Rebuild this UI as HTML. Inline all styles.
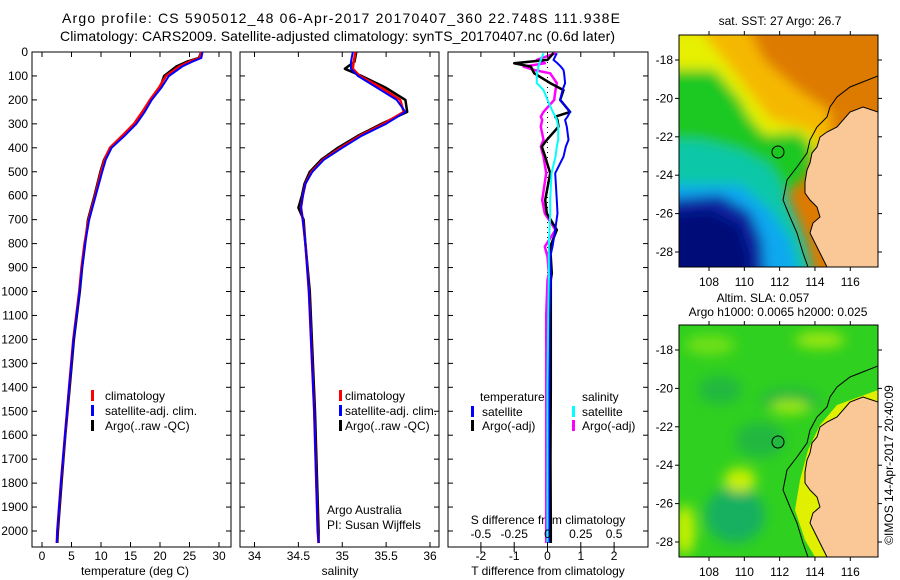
<!DOCTYPE html>
<html><head><meta charset="utf-8"><style>
html,body{margin:0;padding:0;background:#fff}
svg{display:block;font-family:"Liberation Sans",sans-serif}
text{font-size:12px;fill:#000}
</style></head><body>
<svg id="chart" width="900" height="580" viewBox="0 0 900 580" xmlns="http://www.w3.org/2000/svg">
<defs>
<clipPath id="c1"><rect x="679" y="35" width="199" height="232"/></clipPath>
<clipPath id="c2"><rect x="679" y="325" width="199" height="232"/></clipPath>
<filter id="bl"><feGaussianBlur stdDeviation="6"/></filter>
</defs>
<text x="62" y="23" textLength="558" style="font-size:14px">Argo profile: CS 5905012_48 06-Apr-2017 20170407_360 22.748S 111.938E</text>
<text x="60" y="41" textLength="555" style="font-size:14px">Climatology: CARS2009. Satellite-adjusted climatology: synTS_20170407.nc (0.6d later)</text>

<g>
<g clip-path="url(#c1)">
<rect x="679" y="35" width="199" height="232" fill="#dd7a00"/>
<g filter="url(#bl)">
<polygon points="660,20 745,20 765,60 800,90 830,110 835,150 810,165 660,165" fill="#f5b800"/>
<polygon points="660,30 700,30 720,55 740,80 770,120 810,130 820,150 800,170 660,170" fill="#e6f000"/>
<polygon points="660,70 715,70 740,100 750,118 765,135 800,132 815,150 808,175 790,190 760,205 660,205" fill="#1cc820"/>
<polygon points="660,140 700,140 740,150 770,165 785,190 795,215 805,240 815,280 660,280" fill="#10c8a8"/>
<polygon points="660,185 740,185 770,210 790,240 800,280 660,280" fill="#10a8f0"/>
<polygon points="660,200 720,195 750,212 762,240 765,280 660,280" fill="#0822a0"/>
<polygon points="660,215 710,210 740,225 750,255 750,280 660,280" fill="#000a78"/>
</g>
<polygon points="878,112 863,107 850,112 837,127 827,132 820,137 817,147 812,153 810,163 807,170 805,182 805,193 810,200 817,207 820,217 813,223 810,233 817,247 827,267 878,267" fill="#fac896"/>
<polyline points="878,112 863,107 850,112 837,127 827,132 820,137 817,147 812,153 810,163 807,170 805,182 805,193 810,200 817,207 820,217 813,223 810,233 817,247 827,267" fill="none" stroke="#000" stroke-width="1"/>
<polyline points="878,76 850,87 837,97 830,107 827,117 817,127 810,140 807,153 797,167 787,180 783,200 790,217 797,233 803,253 808,267" fill="none" stroke="#000" stroke-width="1"/>
<circle cx="778" cy="152" r="6" fill="#1cc820" stroke="#000" stroke-width="1"/>
</g>
<rect x="679" y="35" width="199" height="232" fill="none" stroke="#000"/>
</g>
<text x="780" y="25" text-anchor="middle">sat. SST: 27  Argo: 26.7</text>

<g>
<g clip-path="url(#c2)">
<rect x="679" y="325" width="199" height="232" fill="#30d020"/>
<g filter="url(#bl)">
<ellipse cx="720" cy="390" rx="22" ry="14" fill="#22b840"/>
<ellipse cx="790" cy="400" rx="30" ry="12" fill="#22b840"/>
<ellipse cx="760" cy="440" rx="25" ry="18" fill="#22b840"/>
<ellipse cx="735" cy="515" rx="30" ry="28" fill="#18b060"/>
<ellipse cx="740" cy="480" rx="16" ry="12" fill="#c8f000"/>
<ellipse cx="790" cy="407" rx="20" ry="7" fill="#9ee810"/>
<ellipse cx="820" cy="340" rx="25" ry="8" fill="#9ee810"/>
<ellipse cx="685" cy="530" rx="10" ry="25" fill="#c8f000"/>
<ellipse cx="710" cy="345" rx="25" ry="10" fill="#70e018"/>
</g>
<polygon points="878,390 837,405 820,425 808,450 800,480 795,510 805,540 815,557 878,557" fill="#e0f000"/>
<polygon points="878,402 863,397 850,402 837,417 827,422 820,427 817,437 812,443 810,453 807,460 805,472 805,483 810,490 817,497 820,507 813,513 810,523 817,537 827,557 878,557" fill="#fac896"/>
<polyline points="878,402 863,397 850,402 837,417 827,422 820,427 817,437 812,443 810,453 807,460 805,472 805,483 810,490 817,497 820,507 813,513 810,523 817,537 827,557" fill="none" stroke="#000"/>
<polyline points="878,366 850,377 837,387 830,397 827,407 817,417 810,430 807,443 797,457 787,470 783,490 790,507 797,523 803,543 808,557" fill="none" stroke="#000"/>
<circle cx="778" cy="442" r="6" fill="#22b840" stroke="#000"/>
</g>
<rect x="679" y="325" width="199" height="232" fill="none" stroke="#000"/>
</g>
<text x="763" y="302" text-anchor="middle">Altim. SLA: 0.057</text>
<text x="778" y="316" text-anchor="middle">Argo h1000: 0.0065 h2000: 0.025</text>
<text transform="translate(893,465) rotate(-90)" text-anchor="middle">©IMOS 14-Apr-2017 20:40:09</text>

<rect x="32" y="52" width="199" height="495" fill="none" stroke="#000"/>
<rect x="240" y="52" width="199" height="495" fill="none" stroke="#000"/>
<rect x="448" y="52" width="200" height="495" fill="none" stroke="#000"/>

<text x="135" y="575" text-anchor="middle">temperature (deg C)</text>
<text x="340" y="575" text-anchor="middle">salinity</text>
<text x="548" y="575" text-anchor="middle">T difference from climatology</text>
<text x="548" y="524" text-anchor="middle">S difference from climatology</text>
<text x="327" y="514">Argo Australia</text>
<text x="327" y="529">PI: Susan Wijffels</text>

<g>
<rect x="91" y="390" width="3" height="11" fill="#f00"/><text x="105" y="400">climatology</text>
<rect x="91" y="405" width="3" height="11" fill="#00f"/><text x="105" y="415">satellite-adj. clim.</text>
<rect x="91" y="420" width="3" height="11" fill="#000"/><text x="105" y="430">Argo(..raw -QC)</text>
</g>
<g>
<rect x="339" y="390" width="3" height="11" fill="#f00"/><text x="345" y="400">climatology</text>
<rect x="339" y="405" width="3" height="11" fill="#00f"/><text x="345" y="415">satellite-adj. clim.</text>
<rect x="339" y="420" width="3" height="11" fill="#000"/><text x="345" y="430">Argo(..raw -QC)</text>
</g>
<g id="lines"></g>
<g>
<text x="480" y="401">temperature</text>
<rect x="471" y="406" width="3" height="11" fill="#00f"/><text x="482" y="416">satellite</text>
<rect x="471" y="420" width="3" height="11" fill="#000"/><text x="482" y="430">Argo(-adj)</text>
<text x="582" y="401">salinity</text>
<rect x="572" y="406" width="3" height="11" fill="#0ff"/><text x="582" y="416">satellite</text>
<rect x="572" y="420" width="3" height="11" fill="#f0f"/><text x="582" y="430">Argo(-adj)</text>
</g>
<g id="ticks"></g>
</svg>
<script>
const depthTicks = [0,100,200,300,400,500,600,700,800,900,1000,1100,1200,1300,1400,1500,1600,1700,1800,1900,2000];
const tempTicks = [0,5,10,15,20,25,30];
const salTicks = [34,34.5,35,35.5,36];
const tdiffTicks = [-2,-1,0,1,2];
const sdiffTicks = [-0.5,-0.25,0,0.25,0.5];
const lonTicks = [108,110,112,114,116];
const latTicks = [-18,-20,-22,-24,-26,-28];

const depths = [0,25,40,60,100,150,200,250,300,350,400,450,500,600,700,800,900,1000,1200,1400,1600,1800,2000,2050];
const tempClim = [27,26.7,25,23.3,21.0,19.8,18.3,17.0,15.6,13.6,11.5,10.6,10.0,9.0,7.9,7.2,6.7,6.3,5.3,4.6,3.9,3.2,2.6,2.5];
const tempSat = [27.2,27.0,25.5,23.8,21.5,20.2,18.6,17.4,16.0,14.0,11.8,10.8,10.2,9.1,8.0,7.3,6.8,6.35,5.35,4.6,3.9,3.2,2.6,2.5];
const tempArgo = [27,26.6,24.6,22.8,20.7,20.0,18.5,17.3,15.9,13.7,11.6,10.5,9.9,8.9,7.8,7.3,6.8,6.4,5.4,4.7,3.95,3.3,2.7,2.6];

const salDepths = [0,40,70,100,150,200,250,300,350,400,450,500,550,600,650,700,800,1000,1500,2000,2050];
const salClim = [35.15,35.13,35.12,35.2,35.45,35.66,35.70,35.47,35.2,34.98,34.78,34.65,34.58,34.55,34.53,34.55,34.58,34.62,34.68,34.72,34.73];
const salSat = [35.12,35.1,35.1,35.18,35.4,35.62,35.72,35.5,35.22,35.0,34.79,34.66,34.58,34.55,34.53,34.55,34.58,34.62,34.68,34.72,34.73];
const salArgo = [35.16,35.14,35.03,35.22,35.5,35.72,35.74,35.45,35.18,34.95,34.76,34.63,34.57,34.54,34.5,34.56,34.58,34.63,34.69,34.73,34.73];

const diffDepths = [5,33,47,61,75,89,130,159,200,250,270,284,312,367,395,437,506,618,674,743,813,855,924,952,1100,1400,1700,2000,2050];
const tdiffSat = [0.28,0.18,0.3,0.4,0.48,0.5,0.53,0.45,0.38,0.68,0.6,0.53,0.58,0.63,0.55,0.48,0.23,0.28,0.3,0.23,0.15,0.08,0.1,0.1,0.06,0.05,0.04,0.04,0.04];
const tdiffArgo = [0.18,0.0,-1.0,-0.5,-0.45,-0.4,0.08,0.48,0.38,0.68,0.23,0.3,0.33,-0.02,-0.17,-0.07,0.08,-0.07,-0.02,0.28,0.08,0.1,0.13,0.1,0.1,0.1,0.09,0.1,0.1];
const sdiffSat = [-0.03,-0.05,-0.06,-0.07,-0.07,-0.08,-0.08,-0.03,0.0,0.04,0.06,0.07,0.08,0.08,0.07,0.06,0.03,0.02,0.02,0.015,0.01,0.01,0.01,0.01,0.005,0.0,0.0,0.0,0.0];
const sdiffArgo = [0.06,-0.08,-0.02,-0.18,-0.1,0.02,0.07,0.06,0.05,-0.03,-0.05,-0.04,-0.05,-0.03,-0.05,-0.03,-0.01,-0.04,-0.02,0.06,-0.02,0.0,0.01,0.0,-0.01,-0.01,-0.01,-0.01,-0.01];

const NS = 'http://www.w3.org/2000/svg';
const yD = d => 52 + d * 0.2395;
const xT = t => 42 + t * 5.9;
const xS = s => 254.5 + (s - 34) * 87.75;
const xTd = t => 547.5 + t * 33.3;
const xSd = s => 547.5 + s * 133.2;
const xLon = l => 709 + (l - 108) * 17.66;
const yLat1 = l => 60 + (-18 - l) * 19.2;
const yLat2 = l => 350 + (-18 - l) * 19.2;

function mk(tag, attrs, parent) {
  const e = document.createElementNS(NS, tag);
  for (const k in attrs) e.setAttribute(k, attrs[k]);
  parent.appendChild(e);
  return e;
}
const lines = document.getElementById('lines');
const ticks = document.getElementById('ticks');

function series(xs, ds, xf, color, w) {
  const pts = xs.map((v, i) => xf(v).toFixed(1) + ',' + yD(ds[i]).toFixed(1)).join(' ');
  return mk('polyline', {points: pts, fill: 'none', stroke: color, 'stroke-width': w, 'stroke-linejoin': 'round'}, lines);
}
let l;
l = series(tempArgo, depths, xT, '#000', 2.5);


l = series(tempClim, depths, xT, '#f00', 2.5);


l = series(tempSat, depths, xT, '#00f', 2);


l = series(salArgo, salDepths, xS, '#000', 2.5);


l = series(salClim, salDepths, xS, '#f00', 2.5);


l = series(salSat, salDepths, xS, '#00f', 2);


l = mk('line', {x1: xTd(0), x2: xTd(0), y1: 52, y2: 547, stroke: '#000', 'stroke-dasharray': '1 4'}, lines);


l = series(sdiffArgo, diffDepths, xSd, '#f0f', 2.5);


l = series(tdiffArgo, diffDepths, xTd, '#000', 2.5);


l = series(tdiffSat, diffDepths, xTd, '#00f', 2);


l = series(sdiffSat, diffDepths, xSd, '#0ff', 2);



function tick(x1, y1, x2, y2) { mk('line', {x1, y1, x2, y2, stroke: '#000'}, ticks); }
function label(x, y, s, anchor) {
  const t = mk('text', {x, y, 'text-anchor': anchor}, ticks);
  t.textContent = s;
  return t;
}
depthTicks.forEach(d => {
  const y = yD(d);
  [[32, 37], [231, 226], [240, 245], [439, 434], [448, 453], [648, 643]].forEach(p => tick(p[0], y, p[1], y));
  const t = label(28, y + 4, String(d), 'end');
  
  
});
tempTicks.forEach(v => {
  const x = xT(v);
  tick(x, 52, x, 57); tick(x, 547, x, 542);
  const t = label(x, 560, String(v), 'middle');
  
  
});
salTicks.forEach(v => {
  const x = xS(v);
  tick(x, 52, x, 57); tick(x, 547, x, 542);
  const t = label(x, 560, String(v), 'middle');
  
  
});
tdiffTicks.forEach(v => {
  const x = xTd(v);
  tick(x, 52, x, 57); tick(x, 547, x, 552);
  const t = label(x, 560, String(v), 'middle');
  
  
});
sdiffTicks.forEach(v => {
  const x = xSd(v);
  tick(x, 547, x, 542);
  const t = label(x, 538, String(v), 'middle');
  
  
});
[[35, 267, yLat1, 282], [325, 557, yLat2, 572]].forEach(m => {
  lonTicks.forEach(v => {
    const x = xLon(v);
    tick(x, m[0] - 4, x, m[0]); tick(x, m[1], x, m[1] + 4);
    const t = label(x, m[3] + 4, String(v), 'middle');
    
    
  });
  latTicks.forEach(v => {
    const y = m[2](v);
    tick(675, y, 679, y); tick(878, y, 882, y);
    const t = label(673, y + 4, String(v), 'end');
    
    
  });
});
</script>
</body></html>
